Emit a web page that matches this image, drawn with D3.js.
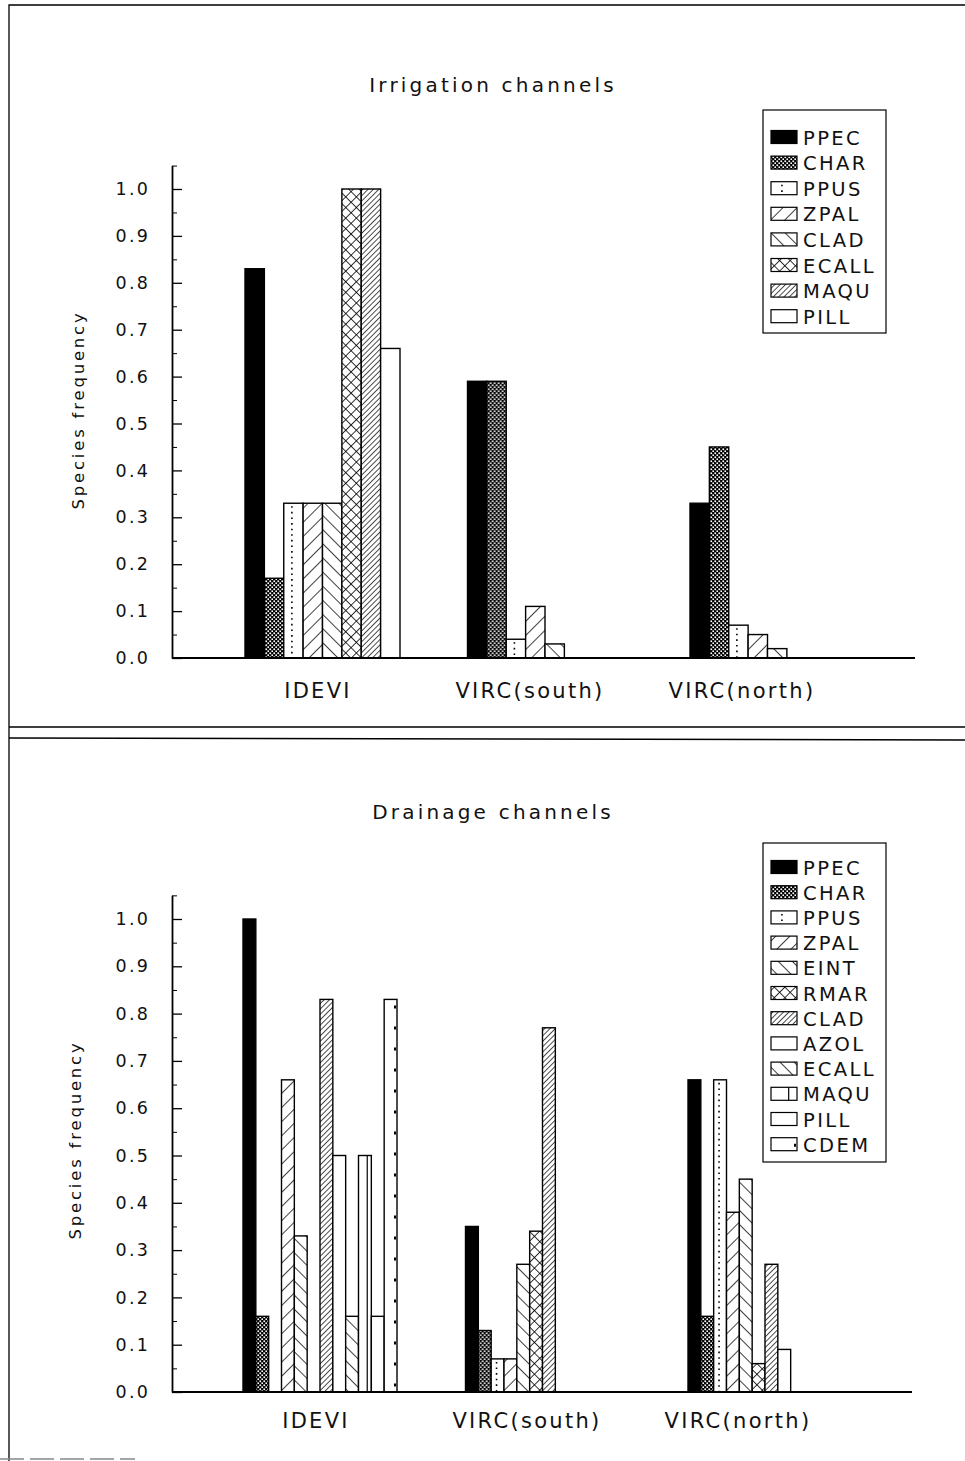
<!DOCTYPE html>
<html>
<head>
<meta charset="utf-8">
<script src="https://cdn.jsdelivr.net/npm/d3@7"></script>
<style>
  html, body { margin: 0; padding: 0; background: #fff; }
  svg { display: block; }
  text { font-family: "DejaVu Sans", "Liberation Sans", sans-serif; fill: #111; }
</style>
</head>
<body>
<svg id="chart" width="965" height="1461"></svg>
<script>
// ---------------- DATA ----------------
const categories = ["IDEVI", "VIRC(south)", "VIRC(north)"];

// Irrigation channels
const irrSeries = ["PPEC", "CHAR", "PPUS", "ZPAL", "CLAD", "ECALL", "MAQU", "PILL"];
const irrIDEVI      = [0.83, 0.17, 0.33, 0.33, 0.33, 1.00, 1.00, 0.66];
const irrVIRCsouth  = [0.59, 0.59, 0.04, 0.11, 0.03, 0, 0, 0];
const irrVIRCnorth  = [0.33, 0.45, 0.07, 0.05, 0.02, 0, 0, 0];

// Drainage channels
const drnSeries = ["PPEC", "CHAR", "PPUS", "ZPAL", "EINT", "RMAR", "CLAD", "AZOL", "ECALL", "MAQU", "PILL", "CDEM"];
const drnIDEVI      = [1.00, 0.16, 0, 0.66, 0.33, 0, 0.83, 0.50, 0.16, 0.50, 0.16, 0.83];
const drnVIRCsouth  = [0.35, 0.13, 0.07, 0.07, 0.27, 0.34, 0.77, 0, 0, 0, 0, 0];
const drnVIRCnorth  = [0.66, 0.16, 0.66, 0.38, 0.45, 0.06, 0.27, 0.09, 0, 0, 0, 0];

const yTickValues = [0, 0.1, 0.2, 0.3, 0.4, 0.5, 0.6, 0.7, 0.8, 0.9, 1.0];
const yMinorValues = [0.05, 0.15, 0.25, 0.35, 0.45, 0.55, 0.65, 0.75, 0.85, 0.95, 1.05];

// ---------------- STYLES ----------------
const irrStyles = ["solid", "checker", "dotline", "hatchR", "hatchL", "cross", "dense", "open"];
const drnStyles = ["solid", "checker", "dotline", "hatchR", "hatchL", "cross", "dense", "open", "hatchL", "vline", "open", "rdash"];

const svg = d3.select("#chart");
const defs = svg.append("defs");

// checker
{
  const p = defs.append("pattern").attr("id", "checker").attr("patternUnits", "userSpaceOnUse")
    .attr("width", 4).attr("height", 4);
  p.append("rect").attr("width", 4).attr("height", 4).attr("fill", "#000");
  p.append("rect").attr("x", 0.4).attr("y", 0.4).attr("width", 1.7).attr("height", 1.7).attr("fill", "#fff");
  p.append("rect").attr("x", 2.4).attr("y", 2.4).attr("width", 1.7).attr("height", 1.7).attr("fill", "#fff");
}
function hatch(id, size, angle, sw, cross) {
  const p = defs.append("pattern").attr("id", id).attr("patternUnits", "userSpaceOnUse")
    .attr("width", size).attr("height", size)
    .attr("patternTransform", `rotate(${angle})`);
  p.append("rect").attr("width", size).attr("height", size).attr("fill", "#fff");
  p.append("line").attr("x1", 0).attr("y1", 0).attr("x2", 0).attr("y2", size)
    .attr("stroke", "#000").attr("stroke-width", sw);
  if (cross) {
    p.append("line").attr("x1", 0).attr("y1", 0).attr("x2", size).attr("y2", 0)
      .attr("stroke", "#000").attr("stroke-width", sw);
  }
}
hatch("hatchR", 10, 45, 1.5, false);
hatch("hatchL", 10, -45, 1.5, false);
hatch("cross", 7.5, 45, 1.6, true);
hatch("dense", 3.8, 45, 1.4, false);

function fillFor(style) {
  if (style === "solid") return "#000";
  if (["checker", "hatchR", "hatchL", "cross", "dense"].includes(style)) return `url(#${style})`;
  return "#fff";
}
function decorate(g, style, x, y, w, h) {
  if (style === "dotline") {
    g.append("line").attr("x1", x + w * 0.42).attr("x2", x + w * 0.42)
      .attr("y1", y + 3).attr("y2", y + h - 1)
      .attr("stroke", "#000").attr("stroke-width", 1.6).attr("stroke-dasharray", "1.6,4");
  } else if (style === "vline") {
    g.append("line").attr("x1", x + w * 0.68).attr("x2", x + w * 0.68)
      .attr("y1", y).attr("y2", y + h)
      .attr("stroke", "#000").attr("stroke-width", 1.2);
  } else if (style === "rdash") {
    g.append("line").attr("x1", x + w - 2).attr("x2", x + w - 2)
      .attr("y1", y + 6).attr("y2", y + h)
      .attr("stroke", "#000").attr("stroke-width", 2).attr("stroke-dasharray", "3,18");
  }
}

function drawPanel(cfg) {
  const g = svg.append("g");
  const y = d3.scaleLinear().domain([0, 1]).range([cfg.y0, cfg.y1]);

  const xGroup = d3.scaleBand().domain(categories)
    .range([cfg.gx0, cfg.gx0 + 2 * cfg.step + cfg.gw])
    .paddingInner((cfg.step - cfg.gw) / cfg.step).paddingOuter(0);
  const xSeries = d3.scaleBand().domain(cfg.series).range([0, xGroup.bandwidth()]).padding(0);

  // title
  g.append("text").attr("x", 493).attr("y", cfg.titleY).attr("text-anchor", "middle")
    .style("font-size", "20px").style("letter-spacing", "3.2px").text(cfg.title);

  // y axis title
  g.append("text").attr("transform", `translate(${cfg.yTitleX},${cfg.yTitleY}) rotate(-90)`)
    .attr("text-anchor", "middle").style("font-size", "16.5px").style("letter-spacing", "2.8px")
    .text("Species frequency");

  // bars
  const rows = cfg.values;
  categories.forEach((cat, ci) => {
    const cg = g.append("g").attr("transform", `translate(${xGroup(cat)},0)`);
    cfg.series.forEach((s, si) => {
      const v = rows[ci][si];
      if (!v) return;
      const bx = xSeries(s), bw = xSeries.bandwidth();
      const by = y(v), bh = y(0) - y(v);
      const st = cfg.styles[si];
      cg.append("rect").attr("x", bx).attr("y", by).attr("width", bw).attr("height", bh)
        .attr("fill", fillFor(st)).attr("stroke", "#000").attr("stroke-width", 1.4);
      decorate(cg, st, bx, by, bw, bh);
    });
  });

  // axes
  const ya = d3.scaleLinear().domain([0, 1.05]).range([y(0), y(1.05)]);
  const axis = g.append("g").attr("transform", `translate(${cfg.axisX},0)`)
    .call(d3.axisLeft(ya).tickValues(yTickValues).tickSizeInner(-10).tickSizeOuter(0)
      .tickPadding(22).tickFormat(d3.format(".1f")));
  axis.select(".domain").attr("stroke-width", 1.8);
  axis.selectAll(".tick line").attr("stroke-width", 1.3);
  axis.selectAll(".tick text").style("font-size", "17.5px").style("letter-spacing", "2.2px")
    .style("font-family", "DejaVu Sans, sans-serif").attr("fill", "#111");
  const minor = g.append("g").attr("transform", `translate(${cfg.axisX},0)`)
    .call(d3.axisLeft(ya).tickValues(yMinorValues).tickSize(-5).tickFormat(""));
  minor.select(".domain").remove();

  g.append("line").attr("x1", cfg.axisX).attr("x2", cfg.xEnd).attr("y1", y(0)).attr("y2", y(0))
    .attr("stroke", "#000").attr("stroke-width", 1.8);

  // category labels
  const xl = d3.scalePoint().domain(categories).range(cfg.labelRange);
  g.selectAll(".cat").data(categories).enter().append("text")
    .attr("x", d => xl(d)).attr("y", cfg.catY).attr("text-anchor", "middle")
    .style("font-size", "21px").style("letter-spacing", "2.3px").text(d => d);

  // legend
  const lg = g.append("g");
  lg.append("rect").attr("x", cfg.legX).attr("y", cfg.legTop).attr("width", 123)
    .attr("height", cfg.legH).attr("fill", "#fff").attr("stroke", "#000").attr("stroke-width", 1.2);
  cfg.series.forEach((s, i) => {
    const cy = cfg.legFirst + i * cfg.legStep;
    const st = cfg.styles[i];
    lg.append("rect").attr("x", cfg.legX + 8).attr("y", cy - 6.5).attr("width", 26).attr("height", 13)
      .attr("fill", fillFor(st)).attr("stroke", "#000").attr("stroke-width", 1.2);
    decorate(lg, st, cfg.legX + 8, cy - 6.5, 26, 13);
    lg.append("text").attr("x", cfg.legX + 40).attr("y", cy + 7.5)
      .style("font-size", "19.5px").style("letter-spacing", "2.4px").text(s);
  });
}

// frames
svg.append("path").attr("d", "M9,1461 L9,5 L965,5").attr("fill", "none").attr("stroke", "#000").attr("stroke-width", 1.3);
svg.append("line").attr("x1", 9).attr("x2", 965).attr("y1", 727).attr("y2", 727).attr("stroke", "#000").attr("stroke-width", 1.5);
svg.append("line").attr("x1", 9).attr("x2", 965).attr("y1", 738).attr("y2", 740).attr("stroke", "#000").attr("stroke-width", 1.5);
svg.append("line").attr("x1", 0).attr("x2", 135).attr("y1", 1459).attr("y2", 1459)
  .attr("stroke", "#888").attr("stroke-width", 1.5).attr("stroke-dasharray", "24,6");

drawPanel({
  title: "Irrigation channels", titleY: 92,
  series: irrSeries, styles: irrStyles,
  values: [irrIDEVI, irrVIRCsouth, irrVIRCnorth],
  y0: 658, y1: 189, axisX: 172, xEnd: 915,
  gx0: 245, step: 222.5, gw: 155,
  yTitleX: 84, yTitleY: 410,
  labelRange: [318, 742], catY: 698,
  legX: 763, legTop: 110, legH: 223, legFirst: 137, legStep: 25.6
});

drawPanel({
  title: "Drainage channels", titleY: 819,
  series: drnSeries, styles: drnStyles,
  values: [drnIDEVI, drnVIRCsouth, drnVIRCnorth],
  y0: 1392, y1: 919, axisX: 172, xEnd: 912,
  gx0: 243, step: 222.5, gw: 154,
  yTitleX: 81, yTitleY: 1140,
  labelRange: [316, 738], catY: 1428,
  legX: 763, legTop: 843, legH: 319, legFirst: 867, legStep: 25.2
});
</script>
</body>
</html>
